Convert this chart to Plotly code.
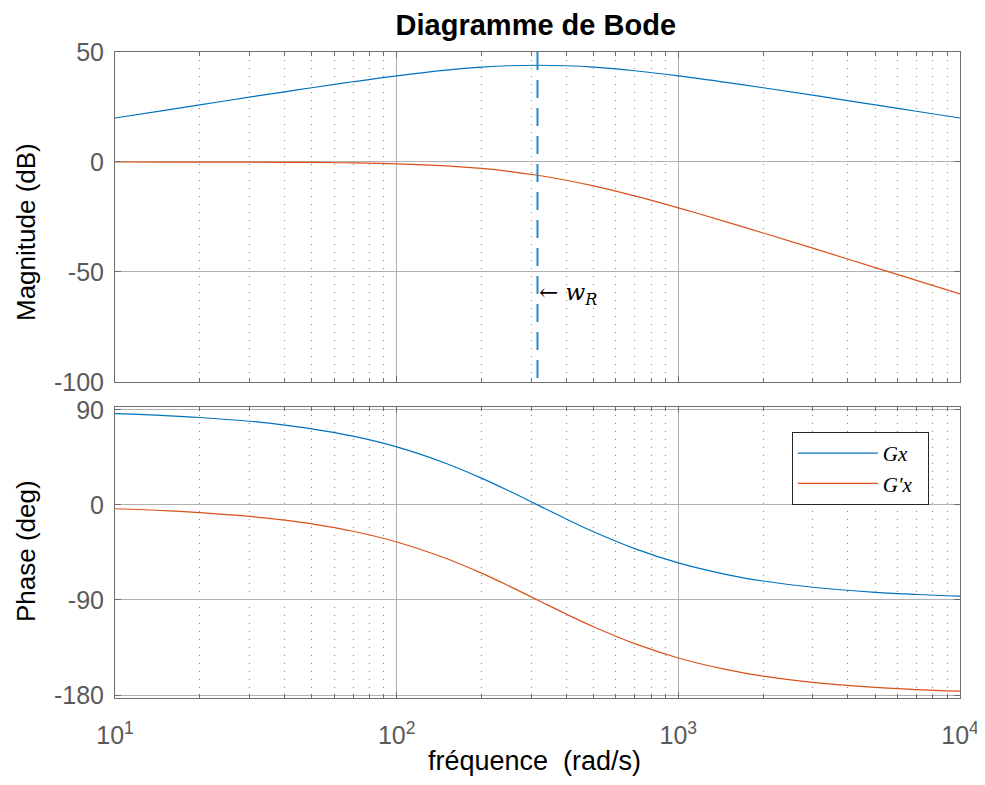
import math
import plotly.graph_objects as go
from plotly.subplots import make_subplots

# ---- data ----
freq = [10, 15, 20, 30, 40, 50, 70, 100, 150, 200, 250, 316.2, 400, 500,
        700, 1000, 1500, 2000, 3000, 5000, 7000, 10000]
mag_gx = [19.99, 23.50, 25.99, 29.46, 31.90, 33.76, 36.49, 39.17, 41.76, 43.10,
          43.74, 43.98, 43.74, 43.10, 41.48, 39.17, 36.10, 33.76, 30.36, 25.99,
          23.08, 19.99]
mag_gpx = [-0.01, -0.02, -0.03, -0.08, -0.14, -0.21, -0.42, -0.83, -1.76, -2.92,
           -4.22, -6.02, -8.30, -10.88, -15.42, -20.83, -27.42, -32.26, -39.18,
           -47.99, -53.82, -60.01]
phase_gx = [86.38, 84.57, 82.76, 79.16, 75.58, 72.03, 65.03, 54.90, 39.25, 25.38,
            13.34, 0.0, -13.35, -25.38, -41.38, -54.90, -66.19, -72.03, -77.96,
            -82.76, -84.83, -86.38]
phase_gpx = [-3.62, -5.43, -7.24, -10.84, -14.42, -17.97, -24.97, -35.10, -50.75,
             -64.62, -76.66, -90.0, -103.35, -115.38, -131.38, -144.90, -156.19,
             -162.03, -167.96, -172.76, -174.83, -176.38]
w_R = 316.2
w_R_label_y = -60
series_names = ["<i>Gx</i>\u00a0\u00a0", "<i>G'x</i>\u00a0\u00a0"]
x_tickvals = [10, 100, 1000, 10000]
x_ticktext = ["10<sup>1</sup>", "10<sup>2</sup>", "10<sup>3</sup>", "10<sup>4</sup>"]
x_minor = [v * m for v in (10, 100, 1000) for m in range(2, 10)]
mag_ticks = [50, 0, -50, -100]
mag_text = ["50", "0", "-50", "-100"]
ph_ticks = [90, 0, -90, -180]
ph_text = ["90", "0", "-90", "-180"]

BLUE = "#0072BD"
ORANGE = "#D95319"
AXC = "#6e6e6e"
TICKC = "#5a5a5a"
FONT = "Liberation Sans, Arial, Helvetica, sans-serif"
SERIF = "Liberation Serif, DejaVu Serif, serif"

fig = make_subplots(rows=2, cols=1, shared_xaxes=True, vertical_spacing=0.0387)

fig.add_trace(go.Scatter(x=freq, y=mag_gx, mode="lines", line=dict(color=BLUE, width=1.2, shape="spline"),
                         name=series_names[0], showlegend=False), row=1, col=1)
fig.add_trace(go.Scatter(x=freq, y=mag_gpx, mode="lines", line=dict(color=ORANGE, width=1.2, shape="spline"),
                         name=series_names[1], showlegend=False), row=1, col=1)
fig.add_trace(go.Scatter(x=[w_R, w_R], y=[mag_ticks[0], mag_ticks[-1]], mode="lines",
                         line=dict(color="#2a86cc", width=2, dash="18px,10px"), showlegend=False), row=1, col=1)
fig.add_trace(go.Scatter(x=freq, y=phase_gx, mode="lines", line=dict(color=BLUE, width=1.2, shape="spline"),
                         name=series_names[0]), row=2, col=1)
fig.add_trace(go.Scatter(x=freq, y=phase_gpx, mode="lines", line=dict(color=ORANGE, width=1.2, shape="spline"),
                         name=series_names[1]), row=2, col=1)

fig.add_annotation(x=math.log10(w_R), y=w_R_label_y, xref="x", yref="y", showarrow=False,
                   text="←\u00a0<i>w</i><sub><i>R</i></sub>", xanchor="left", yanchor="middle",
                   font=dict(family="DejaVu Serif, serif", size=23, color="black"))

# axis titles (placed as in the reference)
fig.add_annotation(x=-0.1053, y=0.7214, xref="paper", yref="paper", showarrow=False,
                   text="Magnitude (dB)", textangle=-90, xanchor="center", yanchor="middle",
                   font=dict(family=FONT, size=26, color="black"))
fig.add_annotation(x=-0.1053, y=0.2276, xref="paper", yref="paper", showarrow=False,
                   text="Phase (deg)", textangle=-90, xanchor="center", yanchor="middle",
                   font=dict(family=FONT, size=26, color="black"))
fig.add_annotation(x=0.4959, y=-0.1238, xref="paper", yref="paper", showarrow=False,
                   text="fréquence\u00a0 (rad/s)", xanchor="center", yanchor="bottom",
                   font=dict(family=FONT, size=27, color="black"))

common_x = dict(type="log", range=[1, 4], showline=True, linecolor=AXC, linewidth=1, mirror="ticks",
                ticks="inside", ticklen=6, tickcolor=AXC, tickvals=x_tickvals, ticktext=x_ticktext,
                showgrid=True, gridcolor="#b0b0b0", gridwidth=1, zeroline=False, automargin=False,
                minor=dict(tickvals=x_minor, ticks="inside", ticklen=4, tickcolor=AXC,
                           showgrid=True, gridcolor="#808080", griddash="1px,7px", gridwidth=1),
                tickfont=dict(family=FONT, size=25, color=TICKC), ticklabeloverflow="allow")
fig.update_xaxes(**common_x)
fig.update_xaxes(showticklabels=False, row=1, col=1)
fig.update_xaxes(ticklabelstandoff=15, row=2, col=1)

common_y = dict(showline=True, linecolor=AXC, linewidth=1, mirror="ticks", ticks="inside", ticklen=6,
                tickcolor=AXC, showgrid=True, gridcolor="#b0b0b0", gridwidth=1, zeroline=False,
                automargin=False, tickfont=dict(family=FONT, size=25, color=TICKC), ticklabelstandoff=5)
fig.update_yaxes(**common_y)
fig.update_yaxes(range=[-100, 50], tickvals=mag_ticks, ticktext=mag_text, row=1, col=1)
fig.update_yaxes(range=[-182.8, 92.7], tickvals=ph_ticks, ticktext=ph_text, row=2, col=1)

fig.update_layout(
    width=970, height=770,
    margin=dict(l=107, r=18, t=44, b=80),
    paper_bgcolor="white", plot_bgcolor="white",
    title=dict(text="<b>Diagramme de Bode</b>", xref="paper", x=0.498, xanchor="center",
               y=0.978, yanchor="middle",
               font=dict(family=FONT, size=29, color="black")),
    legend=dict(x=0.801, y=0.4118, xanchor="left", yanchor="top", bgcolor="white",
                bordercolor="#262626", borderwidth=1,
                font=dict(family=SERIF, size=21, color="black"),
                itemwidth=80, tracegroupgap=0),
    showlegend=True,
)
fig.update_yaxes(domain=[0.4892, 1.0], row=1, col=1)
fig.update_yaxes(domain=[0.0, 0.4505], row=2, col=1)

fig.write_html("out.html")
